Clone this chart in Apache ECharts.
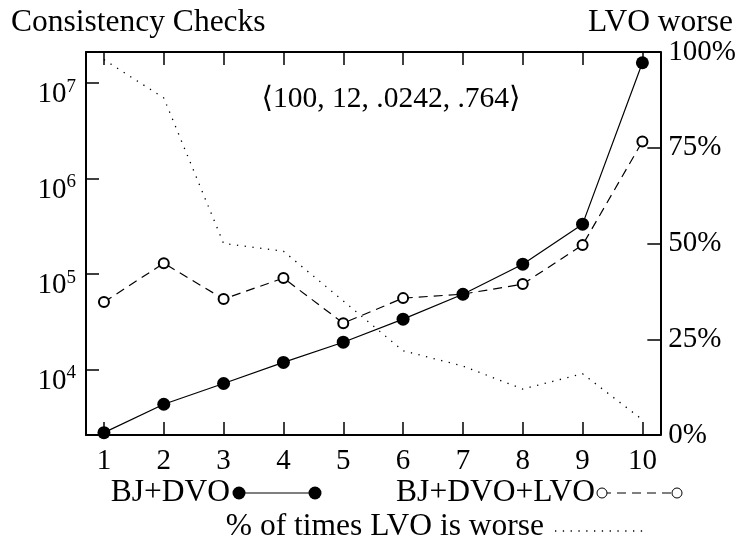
<!DOCTYPE html>
<html>
<head>
<meta charset="utf-8">
<script src="https://cdn.jsdelivr.net/npm/echarts@6/dist/echarts.min.js"></script>
<style>html,body{margin:0;padding:0;background:#fff}#c{width:739px;height:543px}</style>
</head>
<body>
<div id="c"></div>
<script>
// ---- data ----
const xValues = [1, 2, 3, 4, 5, 6, 7, 8, 9, 10];
const bjDvo = [2170, 4300, 7100, 11800, 19200, 33500, 61000, 126000, 331000, 16200000];
const bjDvoLvo = [50500, 129000, 54300, 90200, 30400, 55600, 61200, 78000, 200000, 2430000];
const pctLvoWorse = [98, 88, 50, 48, 35, 22, 18, 12, 16, 4];
const rightTicks = [0, 25, 50, 75, 100];
const leftTitle = 'Consistency Checks';
const rightTitle = 'LVO worse';
const annotation = '\u27E8100, 12, .0242, .764\u27E9';
const legendNames = ['BJ+DVO', 'BJ+DVO+LVO', '% of times LVO is worse'];

const FONT = '"Liberation Serif", "DejaVu Serif", serif';
const FS = 29;
const TFS = 31.5;
const chart = echarts.init(document.getElementById('c'), null, {renderer: 'canvas'});

function pairs(ys) { return xValues.map((x, i) => [x, ys[i]]); }

const tickStyle = {show: true, inside: true, length: 13, lineStyle: {color: '#000', width: 1.5}};
const lineAxis = {show: true, lineStyle: {color: '#000', width: 2}};

const option = {
  animation: false,
  backgroundColor: '#fff',
  textStyle: {fontFamily: FONT},
  title: [
    {text: leftTitle, left: 6, top: 2, textStyle: {fontFamily: FONT, fontSize: TFS, fontWeight: 'normal', color: '#000'}},
    {text: rightTitle, right: 1, top: 2, textStyle: {fontFamily: FONT, fontSize: TFS, fontWeight: 'normal', color: '#000'}}
  ],
  grid: {left: 86, top: 52, right: 76, bottom: 108, containLabel: false},
  xAxis: [
    {type: 'value', position: 'bottom', min: 0.7, max: 10.3,
     axisLine: lineAxis, splitLine: {show: false},
     axisTick: Object.assign({customValues: xValues}, tickStyle),
     axisLabel: {customValues: xValues, color: '#000', fontFamily: FONT, fontSize: FS, margin: 12}},
    {type: 'value', position: 'top', min: 0.7, max: 10.3,
     axisLine: lineAxis, splitLine: {show: false},
     axisTick: Object.assign({customValues: xValues}, tickStyle),
     axisLabel: {show: false}}
  ],
  yAxis: [
    {type: 'log', logBase: 10, position: 'left', min: 2050, max: 21000000,
     axisLine: lineAxis, splitLine: {show: false}, axisTick: tickStyle,
     axisLabel: {
       showMinLabel: false, showMaxLabel: false, margin: 10, color: '#000',
       verticalAlign: 'top', padding: [3, 0, 0, 0],
       formatter: function (v) {
         const l = Math.log10(v); const e = Math.round(l);
         if (Math.abs(l - e) > 1e-6) return '';
         return '{b|10}{s|' + e + '}';
       },
       rich: {
         b: {fontFamily: FONT, fontSize: FS, lineHeight: 18, color: '#000', verticalAlign: 'middle'},
         s: {fontFamily: FONT, fontSize: 19, height: 2, lineHeight: 2, verticalAlign: 'top', color: '#000'}
       }
     }},
    {type: 'value', position: 'right', min: 0, max: 100, interval: 25,
     axisLine: lineAxis, splitLine: {show: false}, axisTick: tickStyle,
     axisLabel: {formatter: '{value}%', color: '#000', fontFamily: FONT, fontSize: FS, margin: 8}}
  ],
  series: [
    {name: legendNames[0], type: 'line', xAxisIndex: 0, yAxisIndex: 0, data: pairs(bjDvo),
     symbol: 'circle', symbolSize: 13, itemStyle: {color: '#000'},
     lineStyle: {color: '#000', width: 1.2}, z: 5},
    {name: legendNames[1], type: 'line', xAxisIndex: 0, yAxisIndex: 0, data: pairs(bjDvoLvo),
     symbol: 'emptyCircle', symbolSize: 10, itemStyle: {color: '#000', borderColor: '#000', borderWidth: 1},
     lineStyle: {color: '#000', width: 1.2, type: [9, 6]}, z: 4},
    {name: legendNames[2], type: 'line', xAxisIndex: 0, yAxisIndex: 1, data: pairs(pctLvoWorse),
     symbol: 'none', lineStyle: {color: '#000', width: 1.3, type: [1.3, 6.5]}, z: 3}
  ],
  graphic: [
    {type: 'text', x: 391, y: 99, style: {text: annotation, font: '29.5px ' + FONT, fill: '#000', align: 'center', verticalAlign: 'middle'}},
    // legend row 1
    {type: 'text', x: 230, y: 493, style: {text: legendNames[0], font: TFS + 'px ' + FONT, fill: '#000', align: 'right', verticalAlign: 'middle'}},
    {type: 'line', shape: {x1: 239, y1: 493, x2: 315, y2: 493}, style: {stroke: '#000', lineWidth: 1.2}},
    {type: 'circle', shape: {cx: 239, cy: 493, r: 6.5}, style: {fill: '#000'}},
    {type: 'circle', shape: {cx: 315, cy: 493, r: 6.5}, style: {fill: '#000'}},
    {type: 'text', x: 595, y: 493, style: {text: legendNames[1], font: TFS + 'px ' + FONT, fill: '#000', align: 'right', verticalAlign: 'middle'}},
    {type: 'line', shape: {x1: 602, y1: 493, x2: 677, y2: 493}, style: {stroke: '#000', lineWidth: 1.2, lineDash: [9, 6]}},
    {type: 'circle', shape: {cx: 602, cy: 493, r: 5}, style: {fill: '#fff', stroke: '#000', lineWidth: 1}},
    {type: 'circle', shape: {cx: 677, cy: 493, r: 5}, style: {fill: '#fff', stroke: '#000', lineWidth: 1}},
    // legend row 2
    {type: 'text', x: 544, y: 527, style: {text: legendNames[2], font: TFS + 'px ' + FONT, fill: '#000', align: 'right', verticalAlign: 'middle'}},
    {type: 'line', shape: {x1: 555, y1: 531, x2: 645, y2: 531}, style: {stroke: '#000', lineWidth: 1.3, lineDash: [1.3, 6.5]}}
  ]
};
chart.setOption(option);
</script>
</body>
</html>
